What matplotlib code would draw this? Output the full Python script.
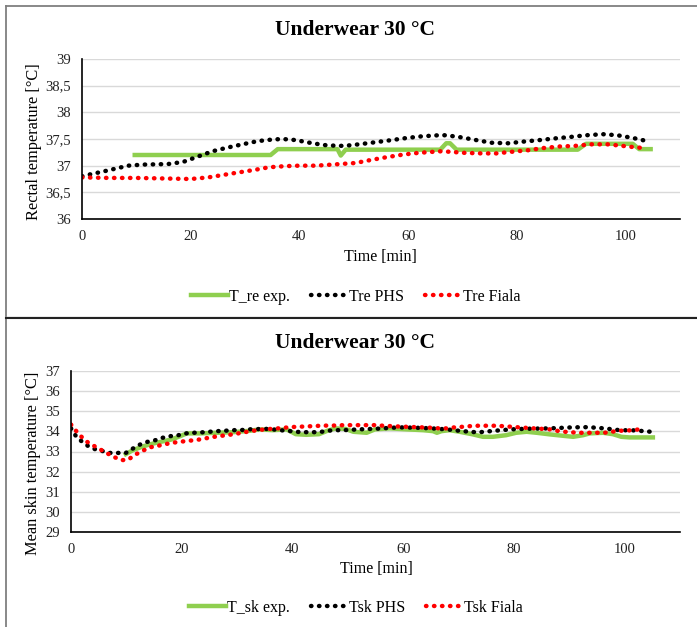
import matplotlib
matplotlib.use('Agg')
import matplotlib.pyplot as plt
from matplotlib.lines import Line2D

plt.rcParams['font.family'] = ['Liberation Serif', 'DejaVu Serif']

# ---------- rectal temperature (top chart) ----------
tre_exp_t = [9.7, 34.7, 36.0, 47.0, 47.6, 48.5, 65.9, 67.0, 67.7, 68.9, 91.2, 92.7, 101.3, 102.5, 104.6]
tre_exp = [37.2, 37.2, 37.31, 37.31, 37.19, 37.3, 37.3, 37.42, 37.42, 37.3, 37.3, 37.41, 37.41, 37.31, 37.31]

tre_phs_t = [0, 1.2, 4.3, 8.5, 11.2, 15.8, 18.6, 21.3, 24.0, 26.8, 29.5, 32.3, 35.0, 36.9, 39.3,
             42.4, 45.1, 48.2, 50.9, 54.0, 57.0, 59.8, 62.5, 65.6, 67.0, 69.8, 72.5, 75.3, 78.4,
             81.1, 84.2, 86.9, 90.0, 92.7, 95.8, 98.5, 101.3, 102.7, 104.3]
tre_phs = [36.8, 36.83, 36.9, 37.0, 37.02, 37.03, 37.07, 37.17, 37.27, 37.34, 37.4, 37.46, 37.49,
           37.5, 37.48, 37.42, 37.38, 37.37, 37.4, 37.44, 37.48, 37.52, 37.55, 37.57, 37.57, 37.53,
           37.48, 37.43, 37.42, 37.45, 37.48, 37.51, 37.54, 37.57, 37.59, 37.57, 37.52, 37.49, 37.45]

tre_fiala_t = [0, 5, 10, 15, 20, 23.2, 26.2, 28.6, 31.7, 34.4, 37.2, 39.9, 43.0, 46.0, 48.8, 50.3,
               53.3, 56.1, 59.2, 61.9, 64.6, 66.1, 67.7, 70.4, 73.5, 76.2, 79.0, 82.1, 84.8, 87.9,
               90.6, 93.6, 96.7, 99.5, 102.2, 103.7]
tre_fiala = [36.78, 36.77, 36.77, 36.76, 36.75, 36.78, 36.83, 36.87, 36.92, 36.97, 36.99, 37.0,
             37.0, 37.02, 37.04, 37.05, 37.11, 37.16, 37.21, 37.24, 37.26, 37.27, 37.26, 37.24,
             37.23, 37.23, 37.26, 37.29, 37.33, 37.36, 37.37, 37.4, 37.4, 37.37, 37.34, 37.33]

re_yticks = [36, 36.5, 37, 37.5, 38, 38.5, 39]
re_yticklabels = ['36', '36,5', '37', '37,5', '38', '38,5', '39']

# ---------- mean skin temperature (bottom chart) ----------
tsk_exp_t = [9.9, 11.2, 13.2, 14.9, 16.7, 18.2, 19.7, 20.9, 23.3, 26.3, 29.3, 32.3, 34.1, 36.5,
             38.9, 39.8, 40.6, 42.5, 44.8, 46.3, 47.8, 49.6, 51.0, 53.4, 54.9, 57.6, 60.6, 63.6,
             65.4, 66.1, 66.9, 68.4, 70.2, 72.6, 74.4, 76.2, 78.6, 80.4, 82.3, 84.1, 86.5, 88.9,
             90.7, 92.5, 93.7, 96.1, 97.9, 99.4, 100.9, 105.1]
tsk_exp = [32.87, 33.07, 33.27, 33.4, 33.51, 33.6, 33.76, 33.9, 33.9, 33.93, 33.96, 34.03, 34.1,
           34.06, 34.1, 33.98, 33.86, 33.83, 33.86, 34.03, 34.15, 34.12, 33.98, 33.93, 34.1, 34.15,
           34.1, 34.06, 34.01, 33.93, 34.01, 34.06, 33.98, 33.85, 33.73, 33.73, 33.81, 33.93, 33.98,
           33.93, 33.85, 33.78, 33.73, 33.81, 33.9, 33.93, 33.86, 33.73, 33.7, 33.7]

tsk_phs_t = [0, 0.9, 1.9, 3.1, 4.3, 5.7, 7.0, 8.5, 9.9, 11.2, 12.5, 13.8, 15.2, 16.5, 17.9, 19.4,
             20.8, 22.1, 23.6, 25.0, 26.3, 27.8, 29.2, 30.6, 32.0, 33.5, 34.9, 36.4, 37.7, 39.1,
             40.6, 41.9, 43.4, 44.8, 46.3, 47.7, 49.2, 52.0, 55.1, 57.9, 59.4, 62.4, 65.1, 67.8,
             70.8, 73.5, 76.5, 79.5, 82.3, 86.5, 90.6, 93.4, 96.3, 99.1, 101.8, 104.8]
tsk_phs = [34.15, 33.76, 33.51, 33.27, 33.12, 33.02, 32.93, 32.93, 32.93, 33.15, 33.35, 33.48,
           33.56, 33.68, 33.76, 33.81, 33.9, 33.93, 33.95, 33.98, 34.01, 34.03, 34.06, 34.06, 34.1,
           34.11, 34.13, 34.1, 34.06, 34.03, 33.98, 33.96, 33.96, 33.96, 34.03, 34.06, 34.06, 34.1,
           34.13, 34.18, 34.2, 34.18, 34.15, 34.1, 34.01, 33.95, 34.03, 34.1, 34.13, 34.15, 34.2,
           34.21, 34.15, 34.06, 34.05, 33.98]

tsk_fiala_t = [0, 0.9, 1.9, 2.9, 4.2, 5.5, 6.6, 8.0, 9.2, 10.4, 11.4, 12.6, 14.1, 15.5, 16.8, 18.2,
               19.7, 21.0, 22.4, 23.9, 25.2, 26.6, 28.1, 29.4, 30.8, 32.2, 33.7, 35.0, 36.4, 37.9,
               39.2, 40.8, 42.1, 43.6, 45.1, 46.5, 48.0, 49.2, 55.1, 56.4, 59.4, 62.4, 65.1, 66.5,
               67.8, 69.3, 70.8, 72.1, 73.5, 76.5, 78.0, 79.5, 80.9, 83.6, 86.5, 87.8, 89.2, 90.6,
               91.9, 96.3, 97.6, 99.1, 101.8, 103.3]
tsk_fiala = [34.34, 34.03, 33.73, 33.48, 33.27, 33.07, 32.9, 32.7, 32.57, 32.6, 32.82, 32.98,
             33.2, 33.27, 33.35, 33.43, 33.48, 33.53, 33.56, 33.63, 33.7, 33.76, 33.81, 33.86,
             33.93, 34.0, 34.06, 34.1, 34.13, 34.16, 34.2, 34.23, 34.24, 34.26, 34.28, 34.29, 34.29,
             34.31, 34.31, 34.28, 34.24, 34.21, 34.18, 34.15, 34.15, 34.2, 34.23, 34.26, 34.28,
             34.28, 34.26, 34.23, 34.2, 34.15, 34.1, 34.03, 33.98, 33.95, 33.93, 33.93, 33.98,
             34.03, 34.06, 34.15]

sk_yticks = [29, 30, 31, 32, 33, 34, 35, 36, 37]
sk_yticklabels = ['29', '30', '31', '32', '33', '34', '35', '36', '37']

xticks = [0, 20, 40, 60, 80, 100]

W, H = 697, 627
GREEN = '#8FCF4F'
DOT = dict(linestyle=(0, (0.1, 1.7)), dash_capstyle='round', lw=3.2)


def px(x0, y0, x1, y1):
    # pixel box (top-left origin) -> figure fraction rect
    return [x0 / W, 1 - y1 / H, (x1 - x0) / W, (y1 - y0) / H]


def style_axes(ax, yticks, ylabels, ylim):
    ax.set_xlim(0, 110)
    ax.set_ylim(*ylim)
    ax.set_xticks(xticks)
    ax.set_yticks(yticks)
    ax.set_yticklabels(ylabels)
    ax.grid(axis='y', color='#D9D9D9', lw=1.0)
    ax.set_axisbelow(True)
    for s in ['top', 'right']:
        ax.spines[s].set_visible(False)
    for s in ['left', 'bottom']:
        ax.spines[s].set_color('black')
        ax.spines[s].set_linewidth(1.2)
    ax.tick_params(length=0, labelsize=10.5, colors='#222222')
    ax.tick_params(axis='y', pad=8)
    ax.tick_params(axis='x', pad=8)


fig = plt.figure(figsize=(W / 100, H / 100), dpi=100)

# top chart
ax1 = fig.add_axes(px(82, 59, 680, 219))
ax1.plot(tre_exp_t, tre_exp, color=GREEN, lw=3.2, solid_joinstyle='round', label='T_re exp.')
ax1.plot(tre_phs_t, tre_phs, color='black', label='Tre PHS', **DOT)
ax1.plot(tre_fiala_t, tre_fiala, color='red', label='Tre Fiala', **DOT)
style_axes(ax1, re_yticks, re_yticklabels, (36, 39))

# bottom chart
ax2 = fig.add_axes(px(71, 371, 680, 532))
ax2.plot(tsk_exp_t, tsk_exp, color=GREEN, lw=3.2, solid_joinstyle='round', label='T_sk exp.')
ax2.plot(tsk_phs_t, tsk_phs, color='black', label='Tsk PHS', **DOT)
ax2.plot(tsk_fiala_t, tsk_fiala, color='red', label='Tsk Fiala', **DOT)
style_axes(ax2, sk_yticks, sk_yticklabels, (29, 37))

# titles, axis labels
for yc in [30, 343]:
    fig.text(355 / W, 1 - yc / H, 'Underwear 30 °C', ha='center', va='center',
             fontsize=15.5, fontweight='bold')
fig.text(380 / W, 1 - 257 / H, 'Time [min]', ha='center', va='center', fontsize=11.5)
fig.text(376 / W, 1 - 569 / H, 'Time [min]', ha='center', va='center', fontsize=11.5)
fig.text(34 / W, 1 - 142 / H, 'Rectal temperature [°C]', rotation=90, ha='center',
         va='center', fontsize=11.8)
fig.text(33 / W, 1 - 463 / H, 'Mean skin temperature [°C]', rotation=90, ha='center',
         va='center', fontsize=11.8)

# legends
for ax, yc in [(ax1, 297), (ax2, 608)]:
    h, l = ax.get_legend_handles_labels()
    fig.legend(h, l, loc='center', bbox_to_anchor=(356 / W, 1 - yc / H), ncol=3,
               frameon=False, fontsize=11.5, handlelength=2.3, handletextpad=0.1,
               columnspacing=1.3)

# panel frames
fig.add_artist(Line2D([6 / W, 6 / W], [0, 1 - 6 / H], color='#7F7F7F', lw=1.3))
fig.add_artist(Line2D([6 / W, 1], [1 - 6 / H, 1 - 6 / H], color='#7F7F7F', lw=1.3))
fig.add_artist(Line2D([6 / W, 1], [1 - 316.5 / H, 1 - 316.5 / H], color='#BFBFBF', lw=1.0))
fig.add_artist(Line2D([6 / W, 1], [1 - 318 / H, 1 - 318 / H], color='#222222', lw=1.5))

fig.savefig('out.png', dpi=100)
